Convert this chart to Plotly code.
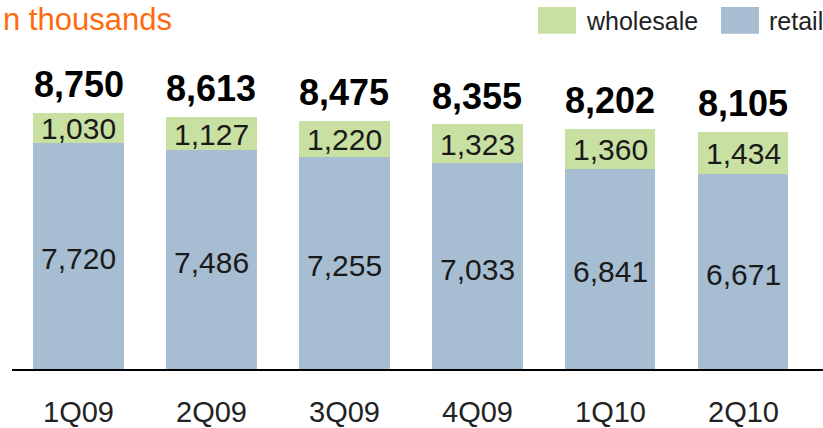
import plotly.graph_objects as go

quarters = ["1Q09", "2Q09", "3Q09", "4Q09", "1Q10", "2Q10"]
retail = [7720, 7486, 7255, 7033, 6841, 6671]
wholesale = [1030, 1127, 1220, 1323, 1360, 1434]
totals = [8750, 8613, 8475, 8355, 8202, 8105]

GREEN = "#c8e0a1"
BLUE = "#a6bdd2"
FONT = "Liberation Sans, Arial, sans-serif"

W, H = 823, 428
ML, MB, MT, MR = 12, 57, 0, 0
PW, PH = W - ML - MR, H - MT - MB


def px(x):
    return (x - ML) / PW


def py(y):
    return (H - MB - y) / PH


fmt = lambda v: f"{v:,}"

fig = go.Figure()
fig.add_bar(x=quarters, y=retail, name="retail", marker_color=BLUE,
            marker_line_width=0, width=0.677, hoverinfo="skip")
fig.add_bar(x=quarters, y=wholesale, name="wholesale", marker_color=GREEN,
            marker_line_width=0, width=0.677, hoverinfo="skip")

# segment values, centred inside each stack segment
for q, r, w in zip(quarters, retail, wholesale):
    fig.add_annotation(x=q, y=r / 2, text=fmt(r), showarrow=False,
                       yanchor="middle", yshift=-3,
                       font=dict(family=FONT, size=30, color="#1a1a1a"))
    fig.add_annotation(x=q, y=r + w / 2, text=fmt(w), showarrow=False,
                       yanchor="middle", yshift=-1,
                       font=dict(family=FONT, size=30, color="#1a1a1a"))

# bold totals above the stacks
for q, t in zip(quarters, totals):
    fig.add_annotation(x=q, y=t, text=f"<b>{fmt(t)}</b>", showarrow=False,
                       yanchor="middle", yshift=28,
                       font=dict(family=FONT, size=36, color="#000000"))

# unit caption
fig.add_annotation(xref="paper", yref="paper", x=px(1), y=py(20),
                   xanchor="left", yanchor="middle", text="n thousands",
                   showarrow=False,
                   font=dict(family=FONT, size=31, color="#ff6a0e"))

# legend swatches and labels
for x0, label, color in [(538, "wholesale", GREEN), (721, "retail", BLUE)]:
    fig.add_shape(type="rect", xref="paper", yref="paper",
                  x0=px(x0), x1=px(x0 + 38), y0=py(34), y1=py(7),
                  fillcolor=color, line_width=0)
    fig.add_annotation(xref="paper", yref="paper", x=px(x0 + 46), y=py(21),
                       xanchor="left", yanchor="middle", text=label,
                       showarrow=False,
                       font=dict(family=FONT, size=25, color="#222222"))

fig.update_layout(
    width=W, height=H, barmode="stack", showlegend=False,
    margin=dict(l=ML, r=MR, t=MT, b=MB),
    paper_bgcolor="white", plot_bgcolor="white",
    bargap=0.3,
)
fig.update_xaxes(range=[-0.5, 5.598], showline=True, linecolor="#000000",
                 linewidth=2, ticks="", showgrid=False, zeroline=False,
                 tickfont=dict(family=FONT, size=29, color="#222222"),
                 ticklabelstandoff=16)
fig.update_yaxes(range=[0, 12600], visible=False, showgrid=False)

fig.write_html("out.html")
